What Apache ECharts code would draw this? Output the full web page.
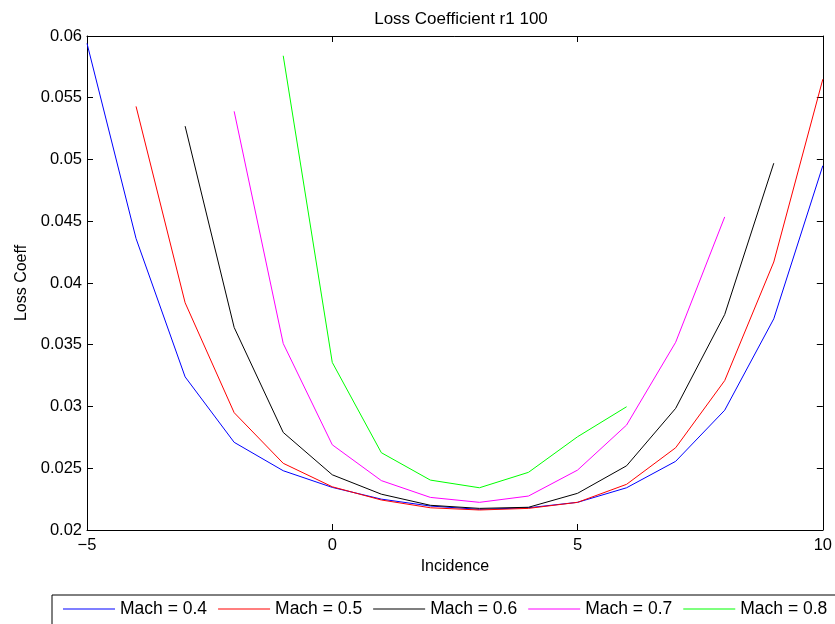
<!DOCTYPE html>
<html>
<head>
<meta charset="utf-8">
<script src="https://cdn.jsdelivr.net/npm/echarts@6/dist/echarts.min.js"></script>
<style>
  html, body { margin: 0; padding: 0; background: #fff; }
  #chart { width: 835px; height: 624px; }
</style>
</head>
<body>
<div id="chart"></div>
<script>
// Loss coefficient vs incidence, one line per Mach number
const mach04X = [-5, -4, -3, -2, -1, 0, 1, 2, 3, 4, 5, 6, 7, 8, 9, 10];
const mach04Y = [0.0594, 0.0436, 0.0324, 0.0271, 0.0248, 0.02345, 0.0225, 0.02194, 0.02167, 0.0218, 0.02224, 0.02342, 0.02556, 0.0297, 0.0371, 0.0495];

const mach05X = [-4, -3, -2, -1, 0, 1, 2, 3, 4, 5, 6, 7, 8, 9, 10];
const mach05Y = [0.0543, 0.0384, 0.0295, 0.0254, 0.0235, 0.02243, 0.0218, 0.02162, 0.02175, 0.02224, 0.0237, 0.02666, 0.0321, 0.0417, 0.0565];

const mach06X = [-3, -2, -1, 0, 1, 2, 3, 4, 5, 6, 7, 8, 9];
const mach06Y = [0.0527, 0.0364, 0.0279, 0.02447, 0.0229, 0.0220, 0.02175, 0.02184, 0.02297, 0.0252, 0.02985, 0.03745, 0.0497];

const mach07X = [-2, -1, 0, 1, 2, 3, 4, 5, 6, 7, 8];
const mach07Y = [0.0539, 0.0351, 0.0269, 0.024, 0.02264, 0.02224, 0.02275, 0.02485, 0.0285, 0.0352, 0.04535];

const mach08X = [-1, 0, 1, 2, 3, 4, 5, 6];
const mach08Y = [0.0584, 0.03357, 0.02626, 0.02404, 0.02342, 0.02467, 0.02755, 0.02998];

const seriesNames = ['Mach = 0.4', 'Mach = 0.5', 'Mach = 0.6', 'Mach = 0.7', 'Mach = 0.8'];
const seriesColors = ['#0000ff', '#ff0000', '#000000', '#ff00ff', '#00ff00'];
const seriesX = [mach04X, mach05X, mach06X, mach07X, mach08X];
const seriesY = [mach04Y, mach05Y, mach06Y, mach07Y, mach08Y];

const FONT = 'Liberation Sans, Arial, sans-serif';

const chart = echarts.init(document.getElementById('chart'), null, { renderer: 'canvas' });

function boxAxis(extra) {
  return Object.assign({
    type: 'value',
    axisLine: { show: true, onZero: false, lineStyle: { color: '#000', width: 1 } },
    axisTick: { show: true, inside: true, length: 6, lineStyle: { color: '#000' } },
    splitLine: { show: false }
  }, extra);
}

const option = {
  backgroundColor: '#fff',
  animation: false,
  title: {
    text: 'Loss Coefficient r1 100',
    left: 456,
    textAlign: 'center',
    top: 6,
    textStyle: { fontFamily: FONT, fontSize: 17, fontWeight: 'normal', color: '#000' }
  },
  grid: { left: 87, right: 9, top: 36, bottom: 94 },
  legend: {
    data: seriesNames,
    left: 52,
    top: 595,
    width: 900,
    orient: 'horizontal',
    padding: [5, 11, 20, 11],
    icon: 'rect',
    itemWidth: 52,
    itemHeight: 1,
    itemGap: 11,
    borderColor: '#000',
    borderWidth: 1,
    textStyle: { fontFamily: FONT, fontSize: 17.5, color: '#000', padding: [0, 0, 0, 0] }
  },
  xAxis: [
    boxAxis({
      min: -5, max: 10, interval: 5,
      name: 'Incidence', nameLocation: 'middle', nameGap: 29,
      nameTextStyle: { fontFamily: FONT, fontSize: 16, color: '#000' },
      axisLabel: {
        fontFamily: FONT, fontSize: 16.5, color: '#000', margin: 7,
        formatter: v => String(v).replace('-', '\u2212')
      }
    }),
    boxAxis({ min: -5, max: 10, interval: 5, position: 'top', axisLabel: { show: false } })
  ],
  yAxis: [
    boxAxis({
      min: 0.02, max: 0.06, interval: 0.005,
      name: 'Loss Coeff', nameLocation: 'middle', nameGap: 57,
      nameTextStyle: { fontFamily: FONT, fontSize: 16, color: '#000' },
      axisLabel: {
        fontFamily: FONT, fontSize: 16.5, color: '#000', margin: 5,
        formatter: v => String(+v.toFixed(3))
      }
    }),
    boxAxis({ min: 0.02, max: 0.06, interval: 0.005, position: 'right', axisLabel: { show: false } })
  ],
  series: seriesNames.map((name, i) => ({
    name: name,
    type: 'line',
    xAxisIndex: 0,
    yAxisIndex: 0,
    symbol: 'none',
    color: seriesColors[i],
    lineStyle: { width: 1, color: seriesColors[i] },
    data: seriesX[i].map((x, j) => [x, seriesY[i][j]])
  }))
};

chart.setOption(option);
</script>
</body>
</html>
